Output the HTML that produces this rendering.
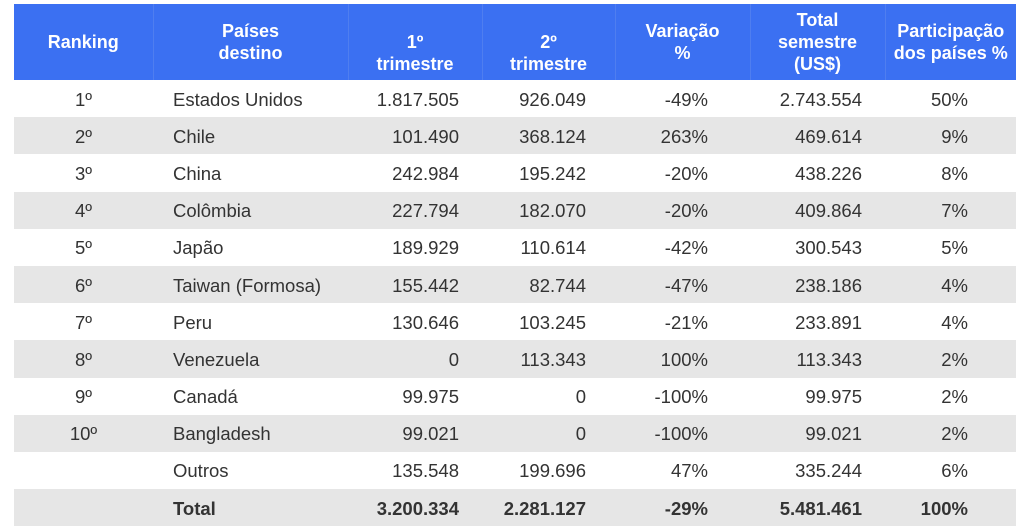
<!DOCTYPE html>
<html><head><meta charset="utf-8"><style>
body{margin:0;background:#fff;width:1024px;height:529px;overflow:hidden;font-family:"Liberation Sans",sans-serif;}
table{position:absolute;left:14px;top:4px;border-collapse:collapse;table-layout:fixed;width:1002px;}
th{background:#3b70f2;color:#fff;font-weight:bold;font-size:18px;line-height:22px;height:76px;padding:0;text-align:center;border-left:1px solid #4f7ef0;}
th:first-child{border-left:none}
td{font-size:18.5px;color:#333;height:37.2px;padding:0;padding-top:2px;box-sizing:border-box;}
tr.g td{background:#e6e6e6}
td.c{text-align:center}
td.l{text-align:left;padding-left:20px}
td.r{text-align:right;padding-right:23px}
td.r4{padding-right:29px}
td.r5{padding-right:42px}
td.r7{padding-right:48px}
tr.t td{font-weight:bold}
</style></head><body>
<table>
<colgroup><col style="width:139px"><col style="width:195px"><col style="width:134px"><col style="width:133px"><col style="width:135px"><col style="width:135px"><col style="width:131px"></colgroup>
<tr><th>Ranking</th><th>Países<br>destino</th><th><br>1º<br>trimestre</th><th><br>2º<br>trimestre</th><th>Variação<br>%</th><th>Total<br>semestre<br>(US$)</th><th>Participação<br>dos países %</th></tr>
<tr><td class="c">1º</td><td class="l">Estados Unidos</td><td class="r">1.817.505</td><td class="r r4">926.049</td><td class="r r5">-49%</td><td class="r">2.743.554</td><td class="r r7">50%</td></tr>
<tr class="g"><td class="c">2º</td><td class="l">Chile</td><td class="r">101.490</td><td class="r r4">368.124</td><td class="r r5">263%</td><td class="r">469.614</td><td class="r r7">9%</td></tr>
<tr><td class="c">3º</td><td class="l">China</td><td class="r">242.984</td><td class="r r4">195.242</td><td class="r r5">-20%</td><td class="r">438.226</td><td class="r r7">8%</td></tr>
<tr class="g"><td class="c">4º</td><td class="l">Colômbia</td><td class="r">227.794</td><td class="r r4">182.070</td><td class="r r5">-20%</td><td class="r">409.864</td><td class="r r7">7%</td></tr>
<tr><td class="c">5º</td><td class="l">Japão</td><td class="r">189.929</td><td class="r r4">110.614</td><td class="r r5">-42%</td><td class="r">300.543</td><td class="r r7">5%</td></tr>
<tr class="g"><td class="c">6º</td><td class="l">Taiwan (Formosa)</td><td class="r">155.442</td><td class="r r4">82.744</td><td class="r r5">-47%</td><td class="r">238.186</td><td class="r r7">4%</td></tr>
<tr><td class="c">7º</td><td class="l">Peru</td><td class="r">130.646</td><td class="r r4">103.245</td><td class="r r5">-21%</td><td class="r">233.891</td><td class="r r7">4%</td></tr>
<tr class="g"><td class="c">8º</td><td class="l">Venezuela</td><td class="r">0</td><td class="r r4">113.343</td><td class="r r5">100%</td><td class="r">113.343</td><td class="r r7">2%</td></tr>
<tr><td class="c">9º</td><td class="l">Canadá</td><td class="r">99.975</td><td class="r r4">0</td><td class="r r5">-100%</td><td class="r">99.975</td><td class="r r7">2%</td></tr>
<tr class="g"><td class="c">10º</td><td class="l">Bangladesh</td><td class="r">99.021</td><td class="r r4">0</td><td class="r r5">-100%</td><td class="r">99.021</td><td class="r r7">2%</td></tr>
<tr><td class="c"></td><td class="l">Outros</td><td class="r">135.548</td><td class="r r4">199.696</td><td class="r r5">47%</td><td class="r">335.244</td><td class="r r7">6%</td></tr>
<tr class="g t"><td class="c"></td><td class="l">Total</td><td class="r">3.200.334</td><td class="r r4">2.281.127</td><td class="r r5">-29%</td><td class="r">5.481.461</td><td class="r r7">100%</td></tr>
</table>
</body></html>
